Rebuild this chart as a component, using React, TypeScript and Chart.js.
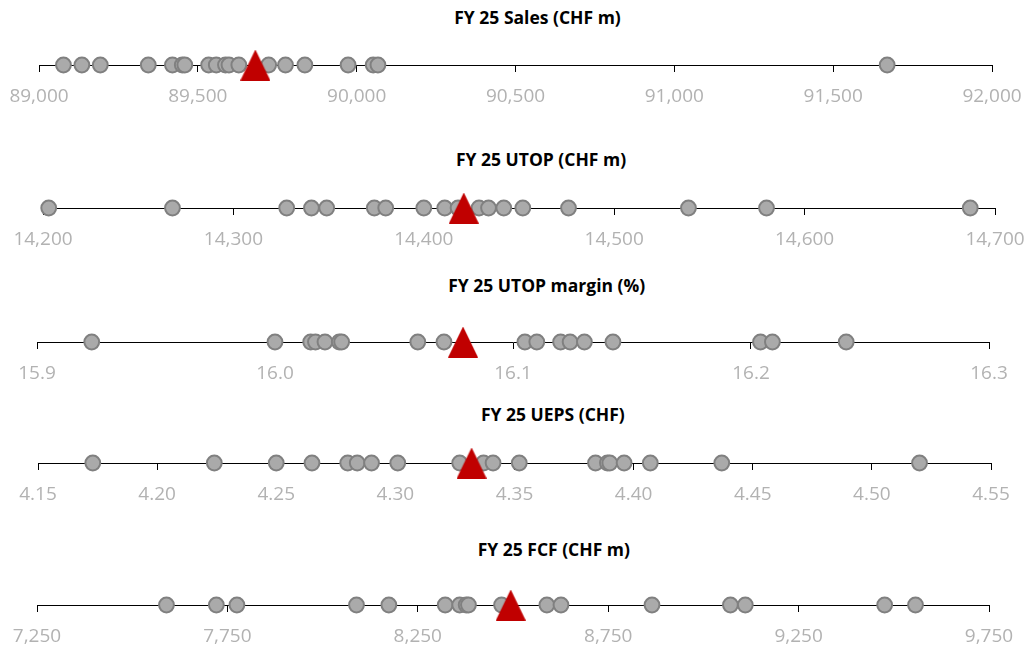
import React, { useEffect, useRef } from 'react';
import { Chart, registerables } from 'chart.js';

Chart.register(...registerables);

// ---------- DATA ----------
const salesValues = [89077, 89135, 89193, 89344, 89420, 89451, 89459, 89534, 89558, 89587, 89598, 89629, 89723, 89776, 89837, 89973, 90052, 90067, 91670];
const salesConsensus = [89681];
const salesTicks = [89000, 89500, 90000, 90500, 91000, 91500, 92000];

const utopValues = [14203, 14268, 14328, 14341, 14349, 14374, 14380, 14400, 14411, 14418, 14429, 14434, 14442, 14452, 14476, 14539, 14580, 14687];
const utopConsensus = [14421];
const utopTicks = [14200, 14300, 14400, 14500, 14600, 14700];

const marginValues = [15.923, 16.0, 16.015, 16.017, 16.021, 16.027, 16.028, 16.06, 16.071, 16.105, 16.11, 16.12, 16.124, 16.13, 16.142, 16.204, 16.209, 16.24];
const marginConsensus = [16.079];
const marginTicks = [15.9, 16.0, 16.1, 16.2, 16.3];

const uepsValues = [4.173, 4.224, 4.25, 4.265, 4.28, 4.284, 4.29, 4.301, 4.327, 4.337, 4.341, 4.352, 4.384, 4.389, 4.39, 4.396, 4.407, 4.437, 4.52];
const uepsConsensus = [4.332];
const uepsTicks = [4.15, 4.2, 4.25, 4.3, 4.35, 4.4, 4.45, 4.5, 4.55];

const fcfValues = [7590, 7721, 7775, 8089, 8174, 8322, 8360, 8377, 8383, 8470, 8589, 8626, 8865, 9071, 9110, 9476, 9557];
const fcfConsensus = [8494];
const fcfTicks = [7250, 7750, 8250, 8750, 9250, 9750];

const titles = ['FY 25 Sales (CHF m)', 'FY 25 UTOP (CHF m)', 'FY 25 UTOP margin (%)', 'FY 25 UEPS (CHF)', 'FY 25 FCF (CHF m)'];

// ---------- FORMATTERS ----------
const thousands = (v: number) => Math.round(v).toLocaleString('en-US');
const oneDec = (v: number) => v.toFixed(1);
const twoDec = (v: number) => v.toFixed(2);

// ---------- LAYOUT ----------
const FONT = "'Open Sans', 'Noto Sans', sans-serif";

type PanelSpec = {
  title: string;
  values: number[];
  consensus: number[];
  ticks: number[];
  fmt: (v: number) => string;
  lineY: number;
  titleY: number;
  titleX: number;
  padL: number;
  padR: number;
};

const panels: PanelSpec[] = [
  { title: titles[0], values: salesValues, consensus: salesConsensus, ticks: salesTicks, fmt: thousands, lineY: 65, titleY: 16.5, titleX: 537.5, padL: 39, padR: 38 },
  { title: titles[1], values: utopValues, consensus: utopConsensus, ticks: utopTicks, fmt: thousands, lineY: 208, titleY: 158.8, titleX: 541, padL: 43, padR: 35 },
  { title: titles[2], values: marginValues, consensus: marginConsensus, ticks: marginTicks, fmt: oneDec, lineY: 342, titleY: 285, titleX: 546.7, padL: 37, padR: 41 },
  { title: titles[3], values: uepsValues, consensus: uepsConsensus, ticks: uepsTicks, fmt: twoDec, lineY: 463, titleY: 414, titleX: 552.8, padL: 38, padR: 39 },
  { title: titles[4], values: fcfValues, consensus: fcfConsensus, ticks: fcfTicks, fmt: thousands, lineY: 605, titleY: 549, titleX: 553.8, padL: 37, padR: 41 },
];

const ABOVE = 25;
const AXIS_H = 46;
const CANVAS_H = ABOVE + AXIS_H;

function makeTriangle(): HTMLCanvasElement {
  const c = document.createElement('canvas');
  c.width = 30;
  c.height = 31;
  const ctx = c.getContext('2d')!;
  ctx.fillStyle = '#c00000';
  ctx.beginPath();
  ctx.moveTo(15, 0);
  ctx.lineTo(30, 31);
  ctx.lineTo(0, 31);
  ctx.closePath();
  ctx.fill();
  return c;
}

function Panel({ spec }: { spec: PanelSpec }) {
  const ref = useRef<HTMLCanvasElement | null>(null);
  useEffect(() => {
    if (!ref.current) return;
    const tri = makeTriangle();
    const chart = new Chart(ref.current, {
      type: 'scatter',
      data: {
        datasets: [
          {
            label: 'Consensus',
            data: spec.consensus.map((v) => ({ x: v, y: 0 })),
            pointStyle: tri as any,
            pointRadius: 15,
            clip: false as any,
          },
          {
            label: 'Estimates',
            data: spec.values.map((v) => ({ x: v, y: 0 })),
            pointRadius: 7.4,
            pointBackgroundColor: '#aaaaaa',
            pointBorderColor: '#808080',
            pointBorderWidth: 2,
            clip: false as any,
          },
        ],
      },
      options: {
        responsive: false,
        animation: false,
        events: [],
        layout: { autoPadding: false, padding: { left: spec.padL, right: spec.padR, top: 0, bottom: 0 } },
        plugins: {
          legend: { display: false },
          tooltip: { enabled: false },
          title: { display: false },
        },
        scales: {
          x: {
            type: 'linear',
            min: spec.ticks[0],
            max: spec.ticks[spec.ticks.length - 1],
            afterBuildTicks: (axis: any) => {
              axis.ticks = spec.ticks.map((v) => ({ value: v }));
            },
            afterFit: (axis: any) => {
              axis.height = AXIS_H;
              axis.paddingLeft = 0;
              axis.paddingRight = 0;
            },
            ticks: {
              callback: (v: any) => spec.fmt(Number(v)),
              color: '#b2b2b2',
              font: { family: FONT, size: 19 },
              padding: 13.5,
              autoSkip: false,
              maxRotation: 0,
              minRotation: 0,
            },
            grid: { drawOnChartArea: false, drawTicks: true, tickLength: 7, color: '#000', lineWidth: 1 },
            border: { display: true, color: '#000', width: 1 },
          },
          y: { display: false, min: 0, max: 1 },
        },
      },
    } as any);
    return () => chart.destroy();
  }, [spec]);

  return (
    <>
      <div
        style={{
          position: 'absolute',
          left: spec.titleX - 250,
          width: 500,
          top: spec.titleY - 10,
          height: 20,
          lineHeight: '20px',
          textAlign: 'center',
          fontFamily: FONT,
          fontWeight: 700,
          fontSize: 17.5,
          color: '#000',
          whiteSpace: 'nowrap',
        }}
      >
        {spec.title}
      </div>
      <canvas
        ref={ref}
        width={1030}
        height={CANVAS_H}
        style={{ position: 'absolute', left: 0, top: spec.lineY - ABOVE, width: 1030, height: CANVAS_H }}
      />
    </>
  );
}

export default function App() {
  return (
    <div style={{ position: 'absolute', left: 0, top: 0, width: 1030, height: 651, overflow: 'hidden', background: '#fff' }}>
      {panels.map((p) => (
        <Panel key={p.title} spec={p} />
      ))}
    </div>
  );
}
